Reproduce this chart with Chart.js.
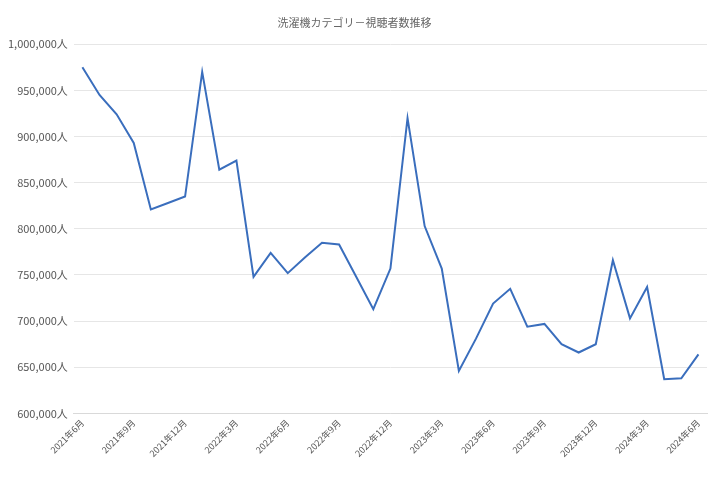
<!DOCTYPE html>
<html>
<head>
<meta charset="utf-8">
<script src="https://cdn.jsdelivr.net/npm/chart.js@4"></script>
<style>
  html, body { margin: 0; padding: 0; background: #fff; }
  #wrap { width: 715px; height: 477px; }
</style>
</head>
<body>
<div id="wrap"><canvas id="chart"></canvas></div>
<script>
const meses = [];
for (let y = 2021; y <= 2024; y++) {
    for (let m = 1; m <= 12; m++) {
        if ((y === 2021 && m < 6) || (y === 2024 && m > 6)) continue;
        meses.push(y + '年' + m + '月');
    }
}
const espectadores = [
    975000, 945000, 924000, 893000, 821000, 828000, 835000,
    970000, 864000, 874000, 748000, 774000, 752000, 769000, 785000, 783000, 748000, 713000, 757000,
    920000, 803000, 757000, 646000, 681000, 719000, 735000, 694000, 697000, 675000, 666000, 675000,
    766000, 703000, 737000, 637000, 638000, 664000
];
const titulo = '洗濯機カテゴリ－視聴者数推移';

const fuente = "'Noto Sans CJK JP', 'Noto Sans', sans-serif";

new Chart(document.getElementById('chart'), {
    type: 'line',
    data: {
        labels: meses,
        datasets: [{
            data: espectadores,
            borderColor: '#3a6ebd',
            borderWidth: 2,
            pointRadius: 0,
            tension: 0,
            fill: false
        }]
    },
    options: {
        responsive: true,
        maintainAspectRatio: false,
        animation: false,
        layout: { padding: { left: 2, right: 8, top: 6, bottom: 14 } },
        plugins: {
            legend: { display: false },
            tooltip: { enabled: false },
            title: {
                display: true,
                text: titulo,
                color: '#666',
                font: { family: fuente, size: 11, weight: 'normal' },
                padding: { top: 10, bottom: 15 }
            }
        },
        scales: {
            x: {
                offset: true,
                grid: { display: false, drawTicks: false },
                border: { color: '#d9d9d9' },
                ticks: {
                    color: '#555',
                    font: { family: fuente, size: 9 },
                    maxRotation: 45,
                    minRotation: 45,
                    autoSkip: false,
                    padding: 4,
                    callback: function (v, i) { return i % 3 === 0 ? meses[i] : ''; }
                }
            },
            y: {
                min: 600000,
                max: 1000000,
                grid: { color: '#e6e6e6', drawTicks: false },
                border: { display: false },
                ticks: {
                    stepSize: 50000,
                    color: '#555',
                    padding: 6,
                    font: { family: fuente, size: 11 },
                    callback: v => v.toLocaleString('en-US') + '人'
                }
            }
        }
    }
});
</script>
</body>
</html>
